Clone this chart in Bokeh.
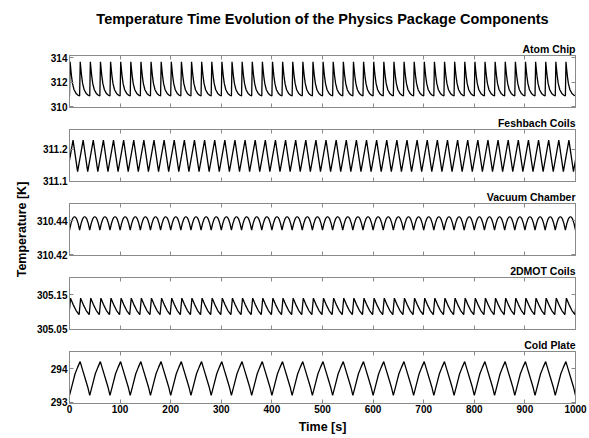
import numpy as np
from bokeh.plotting import figure
from bokeh.layouts import column, row
from bokeh.models import Range1d, LinearAxis, FixedTicker, Title, CustomJSTickFormatter
from bokeh.embed import file_html
from bokeh.resources import INLINE

# ---------------- data ----------------
title_text = "Temperature Time Evolution of the Physics Package Components"
x_label = "Time [s]"
y_label = "Temperature [K]"
x_ticks = [0, 100, 200, 300, 400, 500, 600, 700, 800, 900, 1000]

names = ["Atom Chip", "Feshbach Coils", "Vacuum Chamber", "2DMOT Coils", "Cold Plate"]
y_ranges = [(309.95, 314.2), (311.099, 311.261), (310.4196, 310.4502), (305.049, 305.2), (292.97, 294.51)]
y_ticks = [[310, 312, 314], [311.1, 311.2], [310.42, 310.44], [305.05, 305.15], [293, 294]]

# cycle period [s] and start time of the first cycle [s]
periods = [20, 20, 20, 20, 40]
cycle_starts = [0, -4, 0, -1, 0]

# one cycle of each trace: time offset within the cycle [s] and temperature [K]
atom_t = [0, 1.2, 2.5, 4, 6, 9, 13, 17, 20]
atom_T = [310.9, 313.68, 313.1, 312.5, 311.9, 311.4, 311.1, 310.95, 310.9]
fesh_t = [0, 11, 20]
fesh_T = [311.13, 311.228, 311.13]
vac_t = [0, 3, 6, 8, 10, 12, 14, 17, 20]
vac_T = [310.4346, 310.4385, 310.4412, 310.4421, 310.4424, 310.4421, 310.4412, 310.4385, 310.4346]
mot_t = [0, 3, 8, 14, 20]
mot_T = [305.092, 305.140, 305.122, 305.104, 305.092]
cold_t = [0, 5, 11, 16, 21, 26, 31, 36, 40]
cold_T = [293.21, 293.5, 293.85, 294.04, 294.21, 293.96, 293.71, 293.46, 293.21]

cycle_t = [atom_t, fesh_t, vac_t, mot_t, cold_t]
cycle_T = [atom_T, fesh_T, vac_T, mot_T, cold_T]
t_end = 1000

# ---------------- styling ----------------
FONT = "Liberation Sans"
GRAY = "#8a8a8a"
LBL_W = 31
FRAME_W, FRAME_H = 506, 52
LEFT_B, RIGHT_B = 38, 13
TITLE_H = 38
TOP_FIRST, TOP_B, BOT_B, BOT_LAST = 17, 15, 7, 33


def build_series(tt, TT, period, start):
    n = int(np.ceil((t_end - start) / period)) + 1
    t_all, T_all = [], []
    for k in range(n):
        for a, b in zip(tt[:-1], TT[:-1]):
            t_all.append(start + k * period + a)
            T_all.append(b)
    return t_all, T_all


def style_axis(ax, labels=True):
    ax.axis_line_color = GRAY
    ax.major_tick_line_color = GRAY
    ax.minor_tick_line_color = None
    ax.major_tick_in = 4
    ax.major_tick_out = 0
    ax.major_label_text_font = FONT
    ax.major_label_text_font_style = "bold"
    ax.major_label_text_font_size = "10px"
    ax.major_label_text_color = "black"
    ax.major_label_standoff = 2
    if not labels:
        ax.formatter = CustomJSTickFormatter(code="return ''")
        ax.major_label_text_font_size = "0px"
        ax.major_label_standoff = 0


def blank_fig(**kw):
    f = figure(title=None, x_range=Range1d(0, 1), y_range=Range1d(0, 1), output_backend="svg",
               toolbar_location=None, x_axis_location=None, y_axis_location=None, **kw)
    f.outline_line_color = None
    f.grid.visible = False
    f.background_fill_color = "white"
    f.border_fill_color = "white"
    return f


x_range = Range1d(0, t_end)
figs = []
n_panels = len(names)
for i in range(n_panels):
    first = i == 0
    last = i == n_panels - 1
    p = figure(
        title=None,
        frame_width=FRAME_W,
        frame_height=FRAME_H,
        x_range=x_range,
        y_range=Range1d(*y_ranges[i]),
        output_backend="svg",
        toolbar_location=None,
        min_border_left=LEFT_B,
        min_border_right=RIGHT_B,
        min_border_top=TOP_FIRST if first else TOP_B,
        min_border_bottom=BOT_LAST if last else BOT_B,
    )
    p.background_fill_color = "white"
    p.border_fill_color = "white"
    p.outline_line_color = GRAY
    p.grid.visible = False

    t_vals, T_vals = build_series(cycle_t[i], cycle_T[i], periods[i], cycle_starts[i])
    p.line(t_vals, T_vals, line_color="black", line_width=1.3)

    bottom = p.below[0]
    left = p.left[0]
    bottom.ticker = FixedTicker(ticks=x_ticks)
    style_axis(bottom, labels=last)
    left.ticker = FixedTicker(ticks=y_ticks[i])
    style_axis(left, labels=True)

    if last:
        bottom.major_label_standoff = 1
        bottom.axis_label = x_label
        bottom.axis_label_text_font = FONT
        bottom.axis_label_text_font_style = "bold"
        bottom.axis_label_text_font_size = "12.5px"
        bottom.axis_label_text_color = "black"
        bottom.axis_label_standoff = 4

    # top / right axes (ticks only)
    top = LinearAxis(ticker=FixedTicker(ticks=x_ticks))
    style_axis(top, labels=False)
    p.add_layout(top, "above")
    right = LinearAxis(ticker=FixedTicker(ticks=y_ticks[i]))
    style_axis(right, labels=False)
    p.add_layout(right, "right")

    lab = Title(text=names[i], align="right", text_font=FONT, text_font_style="bold",
                text_font_size="10.5px", text_color="black", standoff=1)
    p.add_layout(lab, "above")
    figs.append(p)

panels_h = (TOP_FIRST + FRAME_H + BOT_B) + 3 * (TOP_B + FRAME_H + BOT_B) + (TOP_B + FRAME_H + BOT_LAST)

# narrow figure that only carries the common y-axis label
lbl = blank_fig(width=LBL_W, height=panels_h, min_border_left=LBL_W - 2, min_border_right=0,
                min_border_top=TOP_FIRST, min_border_bottom=BOT_LAST)
lbl.add_layout(Title(text=y_label, align="center", text_font=FONT, text_font_style="bold",
                     text_font_size="12.5px", text_color="black", standoff=2), "left")

# figure carrying the main title, its frame aligned with the panels
head = blank_fig(width=LBL_W + LEFT_B + FRAME_W + RIGHT_B, height=TITLE_H,
                 min_border_left=LBL_W + LEFT_B, min_border_right=RIGHT_B,
                 min_border_top=27, min_border_bottom=0)
head.add_layout(Title(text=title_text, align="center", text_font=FONT, text_font_style="bold",
                      text_font_size="14.5px", text_color="black", standoff=2), "above")

layout = column(head, row(lbl, column(*figs, spacing=0), spacing=0), spacing=0)
open("out.html", "w").write(file_html(layout, INLINE))
